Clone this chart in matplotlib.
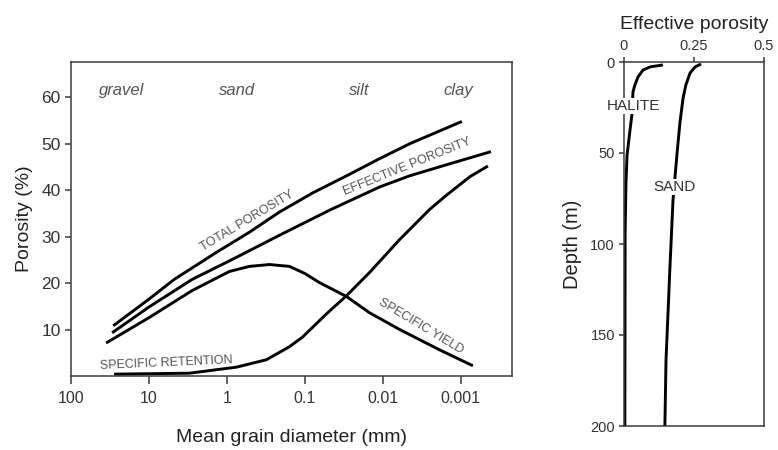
import numpy as np
import matplotlib
matplotlib.use('Agg')
import matplotlib.pyplot as plt

plt.rcParams['font.family'] = ['Liberation Sans', 'DejaVu Sans']

# -----------------
#   左图: 孔隙度 vs 粒径
# -----------------
total_d = [28.8, 9.9, 4.74, 1.37, 0.515, 0.212, 0.0798, 0.0292, 0.0110, 0.00453, 0.00210, 0.00097]
total_p = [10.8, 16.6, 20.8, 26.6, 30.95, 35.3, 39.4, 43.1, 46.8, 50.0, 52.4, 54.8]

eff_d = [29.7, 9.9, 2.79, 0.853, 0.212, 0.0483, 0.0110, 0.00453, 0.00138, 0.000411]
eff_p = [9.3, 14.9, 20.8, 25.1, 30.3, 35.7, 40.7, 43.1, 45.7, 48.3]

yield_d = [35.5, 9.9, 2.79, 0.931, 0.515, 0.285, 0.158, 0.101, 0.0649, 0.0292, 0.0148, 0.00608, 0.00186, 0.000701]
yield_p = [7.1, 12.6, 18.4, 22.5, 23.6, 24.0, 23.6, 22.1, 20.1, 17.1, 13.6, 10.0, 5.6, 2.2]

ret_d = [28.0, 3.04, 0.757, 0.312, 0.158, 0.107, 0.0527, 0.0292, 0.0148, 0.00608, 0.00250, 0.00151, 0.000766, 0.000450]
ret_p = [0.4, 0.6, 1.9, 3.5, 6.3, 8.4, 13.4, 17.3, 22.3, 29.4, 35.9, 39.0, 42.9, 45.2]

x_ticks = [100, 10, 1, 0.1, 0.01, 0.001]
x_labels = ['100', '10', '1', '0.1', '0.01', '0.001']
y_ticks = [10, 20, 30, 40, 50, 60]

classes = ['gravel', 'sand', 'silt', 'clay']
class_d = [22.1, 0.735, 0.0199, 0.00109]

# -----------------
#   右图: 有效孔隙度 vs 深度
# -----------------
halite_phi = [0.139, 0.093, 0.068, 0.050, 0.039, 0.032, 0.029, 0.018, 0.011, 0.007, 0.004, 0.003]
halite_z = [1.6, 2.7, 4.4, 8.2, 12.6, 16.5, 28, 41.8, 51, 66.5, 94, 200]

sand_phi = [0.275, 0.254, 0.236, 0.221, 0.211, 0.200, 0.189, 0.175, 0.164, 0.150, 0.146]
sand_z = [1.1, 2.7, 6, 12.6, 19.8, 33, 51, 76, 113, 164, 200]

phi_ticks = [0, 0.25, 0.5]
phi_labels = ['0', '0.25', '0.5']
depth_ticks = [0, 50, 100, 150, 200]

W, H = 778, 450
fig = plt.figure(figsize=(W / 100, H / 100), dpi=100)
spine_c = '#3a3a3a'
text_c = '#333333'
lab_c = '#555555'
lw = 2.1

# ---- 左图 ----
ax1 = fig.add_axes([71 / W, 1 - 376 / H, (512 - 71) / W, (376 - 62) / H])
ax1.set_xscale('log')
ax1.set_xlim(100, 10 ** -3.656)
ax1.set_ylim(0, 67.6)
for d, p in [(total_d, total_p), (eff_d, eff_p), (yield_d, yield_p), (ret_d, ret_p)]:
    ax1.plot(d, p, color='black', lw=lw, solid_capstyle='butt', solid_joinstyle='round')
ax1.set_xticks(x_ticks)
ax1.set_xticklabels(x_labels)
ax1.xaxis.set_minor_locator(matplotlib.ticker.NullLocator())
ax1.set_yticks(y_ticks)
ax1.tick_params(axis='x', direction='out', length=5.5, width=1.1, color=spine_c,
                labelsize=11.5, labelcolor=text_c, pad=5)
ax1.tick_params(axis='y', direction='out', length=4.5, width=1.1, color=spine_c,
                labelsize=12.5, labelcolor=text_c, pad=3)
for s in ax1.spines.values():
    s.set_color(spine_c)
    s.set_linewidth(1.1)
ax1.set_ylabel('Porosity (%)', fontsize=14, color='#222222', labelpad=6)
ax1.set_xlabel('Mean grain diameter (mm)', fontsize=14, color='#222222', labelpad=17)

for name, d in zip(classes, class_d):
    ax1.text(d, 61.4, name, style='italic', fontsize=12, color=lab_c, ha='center', va='center')

ax1.text(0.547, 33.3, 'TOTAL POROSITY', rotation=31, fontsize=9, color=lab_c,
         ha='center', va='center', rotation_mode='anchor')
ax1.text(0.00494, 45.0, 'EFFECTIVE POROSITY', rotation=22, fontsize=9, color=lab_c,
         ha='center', va='center', rotation_mode='anchor')
ax1.text(0.00327, 10.8, 'SPECIFIC YIELD', rotation=-31, fontsize=9, color=lab_c,
         ha='center', va='center', rotation_mode='anchor')
ax1.text(6.0, 2.8, 'SPECIFIC RETENTION', rotation=2.5, fontsize=9, color=lab_c,
         ha='center', va='center', rotation_mode='anchor')

# ---- 右图 ----
ax2 = fig.add_axes([624 / W, 1 - 426 / H, (764 - 624) / W, (426 - 62) / H])
ax2.plot(halite_phi, halite_z, color='black', lw=lw, solid_capstyle='butt', solid_joinstyle='round')
ax2.plot(sand_phi, sand_z, color='black', lw=lw, solid_capstyle='butt', solid_joinstyle='round')
ax2.set_xlim(0, 0.5)
ax2.set_ylim(200, 0)
ax2.xaxis.tick_top()
ax2.xaxis.set_label_position('top')
ax2.set_xticks(phi_ticks)
ax2.set_xticklabels(phi_labels)
ax2.set_yticks(depth_ticks)
ax2.tick_params(axis='both', direction='out', length=3.5, width=1.1, color=spine_c,
                labelsize=10.5, labelcolor=text_c, pad=3)
for s in ax2.spines.values():
    s.set_color(spine_c)
    s.set_linewidth(1.1)
ax2.set_xlabel('Effective porosity', fontsize=14, color='#222222', labelpad=7)
ax2.set_ylabel('Depth (m)', fontsize=14.5, color='#222222', labelpad=6)

ax2.text(0.032, 24.2, 'HALITE', fontsize=11, color=text_c, ha='center', va='center',
         bbox=dict(facecolor='white', edgecolor='none', pad=1))
ax2.text(0.182, 68.7, 'SAND', fontsize=11, color=text_c, ha='center', va='center',
         bbox=dict(facecolor='white', edgecolor='none', pad=1))

fig.savefig('out.png', dpi=100)
